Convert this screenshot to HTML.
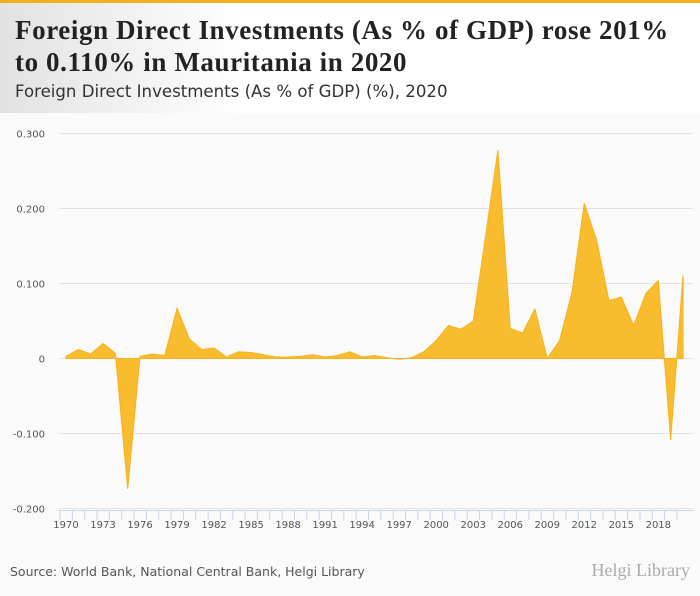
<!DOCTYPE html>
<html><head><meta charset="utf-8"><style>
body{margin:0;width:700px;height:596px;overflow:hidden;font-family:"DejaVu Sans",sans-serif;background:#fafafa}
#hdr{position:absolute;left:0;top:0;width:700px;height:113px;background:linear-gradient(90deg,#e2e2e2 0%,#fff 35%,#fff 100%);border-top:3px solid #f5ae1c;box-sizing:border-box}
#title{position:absolute;left:15px;top:11px;font-family:"Liberation Serif",serif;font-weight:bold;font-size:27px;letter-spacing:0.6px;line-height:32px;color:#222;white-space:nowrap}
#sub{position:absolute;left:15px;top:79px;font-size:16.6px;color:#333;white-space:nowrap}
#src{position:absolute;left:10px;top:564px;font-size:12.5px;color:#555;white-space:nowrap}
#logo{position:absolute;right:10px;top:560px;font-size:18px;color:#aaa;font-family:"Liberation Serif",serif}
</style></head><body>
<div id="hdr">
<div id="title">Foreign Direct Investments (As % of GDP) rose 201%<br>to 0.110% in Mauritania in 2020</div>
<div id="sub">Foreign Direct Investments (As % of GDP) (%), 2020</div>
</div>
<svg id="chart" width="700" height="596" style="position:absolute;left:0;top:0"></svg>
<div id="src">Source: World Bank, National Central Bank, Helgi Library</div>
<div id="logo">Helgi Library</div>
<script>
const years=[1970,1971,1972,1973,1974,1975,1976,1977,1978,1979,1980,1981,1982,1983,1984,1985,1986,1987,1988,1989,1990,1991,1992,1993,1994,1995,1996,1997,1998,1999,2000,2001,2002,2003,2004,2005,2006,2007,2008,2009,2010,2011,2012,2013,2014,2015,2016,2017,2018,2019,2020];
const values=[0.003,0.012,0.006,0.020,0.007,-0.174,0.003,0.006,0.004,0.067,0.026,0.012,0.014,0.002,0.009,0.008,0.005,0.002,0.002,0.003,0.005,0.002,0.004,0.009,0.002,0.004,0.001,-0.001,0.001,0.009,0.024,0.044,0.039,0.050,0.163,0.278,0.040,0.034,0.066,0.000,0.024,0.088,0.207,0.158,0.077,0.082,0.044,0.087,0.104,-0.109,0.111];
const yTicks=[-0.2,-0.1,0,0.1,0.2,0.3];
const yTickLabels=["-0.200","-0.100","0","0.100","0.200","0.300"];
const xTickLabels=[1970,1973,1976,1979,1982,1985,1988,1991,1994,1997,2000,2003,2006,2009,2012,2015,2018];
const NS="http://www.w3.org/2000/svg";
const svg=document.getElementById('chart');
const x0=66,x1=683,y0=358.5,yScale=750;
const X=yr=>x0+(yr-years[0])*(x1-x0)/(years[years.length-1]-years[0]);
const Y=v=>y0-v*yScale;
function mk(t,a){const e=document.createElementNS(NS,t);for(const k in a)e.setAttribute(k,a[k]);svg.appendChild(e);return e;}
yTicks.forEach((t,i)=>{
 const g=mk('line',{x1:59,x2:693,y1:Y(t),y2:Y(t),stroke:'#e3e3e3','stroke-width':1});
 
 
 const l=mk('text',{x:45,y:Y(t)+4,'text-anchor':'end','font-size':10,fill:'#555','font-family':'DejaVu Sans'});
 l.textContent=yTickLabels[i];
 
 
});
const ax=mk('line',{x1:59,x2:693,y1:510.5,y2:510.5,stroke:'#c9d3e8'});


years.forEach(yr=>{const t=mk('line',{x1:X(yr)-6,x2:X(yr)-6,y1:510,y2:520,stroke:'#c9d3e8'});
 
 });
xTickLabels.forEach(yr=>{const l=mk('text',{x:X(yr),y:528,'text-anchor':'middle','font-size':10,fill:'#555','font-family':'DejaVu Sans'});
 l.textContent=yr;
 
 });
let d='M'+X(years[0])+','+y0;
years.forEach((yr,i)=>{d+=' L'+X(yr)+','+Y(values[i]);});
d+=' L'+X(years[years.length-1])+','+y0+' Z';
const a=mk('path',{d:d,fill:'#f9bc2f',stroke:'#f7b21a','stroke-width':1});


</script>
</body></html>
